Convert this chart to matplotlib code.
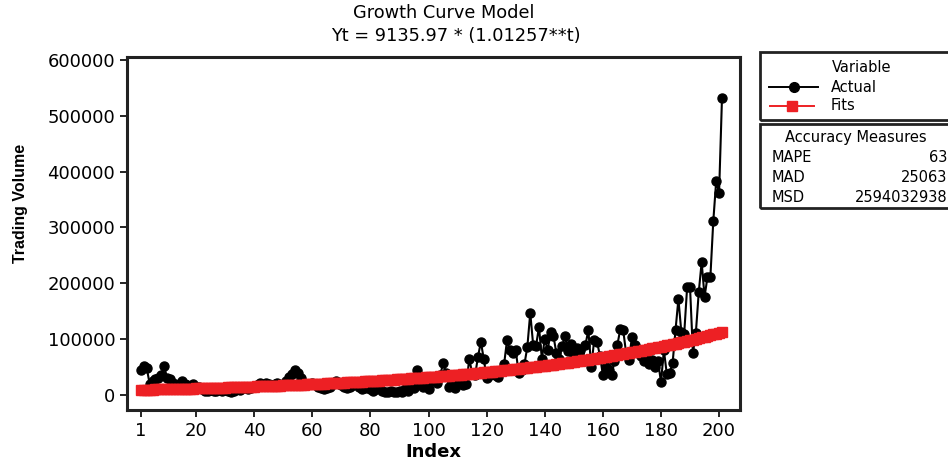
import matplotlib.pyplot as plt
import numpy as np
from matplotlib.lines import Line2D
from matplotlib.patches import Rectangle

# Trading volume, index 1..201
actual = [45000, 52000, 48000, 20000, 25000, 28000, 30000, 35000, 52000, 30000,
          28000, 22000, 18000, 20000, 25000, 20000, 18000, 16000, 20000, 15000,
          14000, 10000, 8000, 7000, 9000, 8000, 7000, 10000, 8000, 9000,
          7000, 6000, 8000, 10000, 9000, 12000, 14000, 10000, 12000, 15000,
          18000, 22000, 16000, 22000, 20000, 18000, 20000, 22000, 18000, 20000,
          25000, 32000, 38000, 45000, 40000, 30000, 22000, 18000, 20000, 22000,
          20000, 15000, 12000, 10000, 12000, 15000, 20000, 25000, 22000, 18000,
          15000, 12000, 14000, 18000, 20000, 15000, 10000, 12000, 14000, 10000,
          8000, 10000, 12000, 8000, 6000, 5000, 7000, 5000, 6000, 8000,
          5000, 10000, 8000, 15000, 12000, 45000, 20000, 15000, 25000, 10000,
          25000, 30000, 22000, 35000, 57000, 40000, 15000, 20000, 12000, 25000,
          30000, 18000, 20000, 64000, 40000, 35000, 68000, 95000, 65000, 30000,
          35000, 40000, 35000, 32000, 45000, 55000, 98000, 80000, 75000, 80000,
          40000, 45000, 55000, 86000, 147000, 90000, 88000, 122000, 65000, 100000,
          80000, 113000, 105000, 75000, 65000, 88000, 105000, 78000, 92000, 70000,
          85000, 80000, 60000, 90000, 116000, 50000, 98000, 95000, 70000, 36000,
          50000, 45000, 36000, 60000, 90000, 118000, 116000, 75000, 63000, 104000,
          90000, 75000, 70000, 60000, 65000, 55000, 63000, 50000, 60000, 23000,
          80000, 38000, 39000, 57000, 116000, 172000, 113000, 110000, 193000, 193000,
          75000, 111000, 184000, 238000, 176000, 211000, 211000, 311000, 383000, 362000,
          532000]

# model from the title: Yt = 9135.97 * (1.01257**t)
a = 9135.97
b = 1.01257

xtick_pos = [1, 20, 40, 60, 80, 100, 120, 140, 160, 180, 200]
ytick_pos = [0, 100000, 200000, 300000, 400000, 500000, 600000]

accuracy = [('MAPE', '63'), ('MAD', '25063'), ('MSD', '2594032938')]

t = np.arange(1, len(actual) + 1)
fits = a * b ** t

W, H = 948, 463
fig = plt.figure(figsize=(W / 100, H / 100), dpi=100)
ax = fig.add_axes([127 / W, 1 - 410 / H, (740 - 127) / W, (410 - 57) / H])

ax.plot(t, actual, color='black', lw=1.5, marker='o', ms=6.5, mfc='black', mec='black', zorder=2)
ax.plot(t, fits, color='#ED2024', lw=1.5, marker='s', ms=6.8, mfc='#ED2024', mec='#ED2024', zorder=3)

ax.set_xlim(-3.8, 207.2)
ax.set_ylim(-26900, 605400)
ax.set_xticks(xtick_pos)
ax.set_yticks(ytick_pos)
ax.tick_params(labelsize=13, length=5, width=1.2, colors='black')
for s in ax.spines.values():
    s.set_linewidth(2.2)
    s.set_color('#222222')

ax.set_xlabel('Index', fontsize=13, fontweight='bold', labelpad=2)
ax.set_ylabel('Trading Volume', fontsize=11.5, fontweight='bold',
              family=['Liberation Sans', 'DejaVu Sans'])
ax.yaxis.set_label_coords(-0.161, 0.584)

fig.text(444 / W, 1 - 13 / H, 'Growth Curve Model', ha='center', va='center', fontsize=12.8)
fig.text(456 / W, 1 - 36 / H, 'Yt = 9135.97 * (1.01257**t)', ha='center', va='center', fontsize=12.8)

# legend boxes (run off the right edge like the original)
def px(x, y):
    return x / W, 1 - y / H

fig.patches.append(Rectangle(px(760, 120), 200 / W, 68 / H, transform=fig.transFigure,
                             fill=False, lw=2, ec='#222222'))
fig.patches.append(Rectangle(px(760, 208), 200 / W, 84 / H, transform=fig.transFigure,
                             fill=False, lw=2, ec='#222222'))

fig.text(*px(862, 67), 'Variable', ha='center', va='center', fontsize=10.5)
x0, y0 = px(769, 87)
x1, _ = px(818, 87)
fig.lines.append(Line2D([x0, x1], [y0, y0], transform=fig.transFigure, color='black', lw=1.4))
fig.lines.append(Line2D([(x0 + x1) / 2], [y0], transform=fig.transFigure, color='black',
                        marker='o', ms=7))
fig.text(*px(831, 87), 'Actual', ha='left', va='center', fontsize=10.5)
x0, y0 = px(770, 106)
x1, _ = px(814, 106)
fig.lines.append(Line2D([x0, x1], [y0, y0], transform=fig.transFigure, color='#ED2024', lw=1.4))
fig.lines.append(Line2D([(x0 + x1) / 2], [y0], transform=fig.transFigure, color='#ED2024',
                        marker='s', ms=7))
fig.text(*px(831, 106), 'Fits', ha='left', va='center', fontsize=10.5)

fig.text(*px(856, 137), 'Accuracy Measures', ha='center', va='center', fontsize=10.5)
for i, (name, val) in enumerate(accuracy):
    y = 158 + i * 19.5
    fig.text(*px(772, y), name, ha='left', va='center', fontsize=10.5)
    fig.text(*px(947, y), val, ha='right', va='center', fontsize=10.5)

fig.savefig('out.png', dpi=100)
